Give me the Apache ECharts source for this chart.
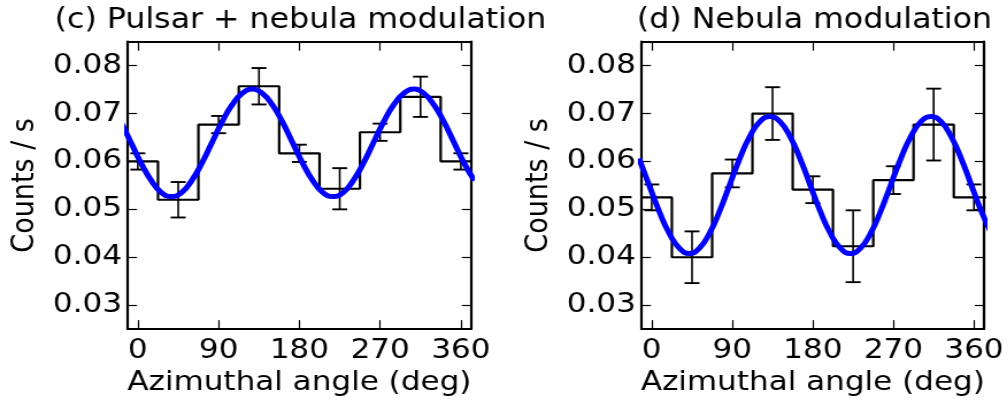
<!DOCTYPE html>
<html>
<head>
<meta charset="utf-8">
<script src="https://cdn.jsdelivr.net/npm/echarts@6/dist/echarts.min.js"></script>
<style>
  html, body { margin: 0; padding: 0; background: #fff; overflow: hidden; }
  #wrap { width: 1007px; height: 401px; overflow: hidden; }
  /* the figure is drawn slightly widened, as in the published panel */
  #chart { width: 876px; height: 401px; transform: scaleX(1.14954); transform-origin: 0 0; }
</style>
</head>
<body>
<div id="wrap"><div id="chart"></div></div>
<script>
// Azimuthal-angle bins (deg, bin centres) and measured count rates
const angleBins = [0, 45, 90, 135, 180, 225, 270, 315, 360];

const pulsarRate = [0.0600, 0.0520, 0.0677, 0.0757, 0.0617, 0.0543, 0.0661, 0.0735, 0.0600];
const pulsarErr  = [0.0017, 0.0037, 0.0018, 0.0038, 0.0018, 0.0043, 0.0018, 0.0042, 0.0017];

const nebulaRate = [0.0525, 0.0400, 0.0575, 0.0700, 0.0541, 0.0423, 0.0561, 0.0677, 0.0525];
const nebulaErr  = [0.0027, 0.0054, 0.0029, 0.0055, 0.0028, 0.0075, 0.0029, 0.0075, 0.0027];

// Fitted modulation curves (angle in deg, rate in counts/s)
const fitAngleC = [-18.75, -7.5, 3.75, 15, 26.25, 37.5, 48.75, 60, 71.25, 82.5, 93.75, 105,
  116.25, 127.5, 138.75, 150, 161.25, 172.5, 183.75, 195, 206.25, 217.5, 228.75, 240,
  251.25, 262.5, 273.75, 285, 296.25, 307.5, 318.75, 330, 341.25, 352.5, 363.75, 375];
const fitRateC = [0.0682, 0.0639, 0.0596, 0.0560, 0.0535, 0.0527, 0.0535, 0.0560, 0.0596, 0.0639,
  0.0682, 0.0718, 0.0742, 0.0751, 0.0742, 0.0718, 0.0682, 0.0639, 0.0596, 0.0560, 0.0535,
  0.0527, 0.0535, 0.0560, 0.0596, 0.0639, 0.0682, 0.0718, 0.0742, 0.0751, 0.0742, 0.0718,
  0.0682, 0.0639, 0.0596, 0.0560];

const fitAngleD = [-14.25, -3, 8.25, 19.5, 30.75, 42, 53.25, 64.5, 75.75, 87, 98.25, 109.5,
  120.75, 132, 143.25, 154.5, 165.75, 177, 188.25, 199.5, 210.75, 222, 233.25, 244.5,
  255.75, 267, 278.25, 289.5, 300.75, 312, 323.25, 334.5, 345.75, 357, 368.25, 379.5];
const fitRateD = [0.0606, 0.0551, 0.0496, 0.0450, 0.0419, 0.0408, 0.0419, 0.0450, 0.0496, 0.0551,
  0.0606, 0.0652, 0.0683, 0.0694, 0.0683, 0.0652, 0.0606, 0.0551, 0.0496, 0.0450, 0.0419,
  0.0408, 0.0419, 0.0450, 0.0496, 0.0551, 0.0606, 0.0652, 0.0683, 0.0694, 0.0683, 0.0652,
  0.0606, 0.0551, 0.0496, 0.0450];

const xTicks = [0, 90, 180, 270, 360];
const yTicks = [0.03, 0.04, 0.05, 0.06, 0.07, 0.08];
const panelTitles = ['(c) Pulsar + nebula modulation', '(d) Nebula modulation'];
const xName = 'Azimuthal angle (deg)';
const yName = 'Counts / s';

const FONT = 'DejaVu Sans';
const X_MIN = -11.25, X_MAX = 371.25;
const Y_MIN = 0.025, Y_MAX = 0.085;
const binHalf = (angleBins[1] - angleBins[0]) / 2;

// histogram outline: one point at each bin's left edge, plus the closing edge
function stepPoints(rates) {
  const pts = angleBins.map((a, i) => [a - binHalf, rates[i]]);
  pts.push([angleBins[angleBins.length - 1] + binHalf, rates[rates.length - 1]]);
  return pts;
}

function errorBarItem(params, api) {
  const x = api.value(0), y = api.value(1), e = api.value(2);
  const hi = api.coord([x, y + e]);
  const lo = api.coord([x, y - e]);
  const hw = 6.5;
  const st = { stroke: '#000', lineWidth: 1.6 };
  const cap = { stroke: '#000', lineWidth: 1.9 };
  return {
    type: 'group',
    children: [
      { type: 'line', shape: { x1: hi[0], y1: hi[1], x2: lo[0], y2: lo[1] }, style: st },
      { type: 'line', shape: { x1: hi[0] - hw, y1: hi[1], x2: hi[0] + hw, y2: hi[1] }, style: cap },
      { type: 'line', shape: { x1: lo[0] - hw, y1: lo[1], x2: lo[0] + hw, y2: lo[1] }, style: cap }
    ]
  };
}

const panels = [
  { left: 111.1, rates: pulsarRate, errs: pulsarErr, fitX: fitAngleC, fitY: fitRateC },
  { left: 558.2, rates: nebulaRate, errs: nebulaErr, fitX: fitAngleD, fitY: fitRateD }
];
const GRID_W = 298.6, GRID_TOP = 41.7, GRID_H = 290;

const spine = { show: true, onZero: false, lineStyle: { color: '#000', width: 2.2 } };
const labelText = { color: '#000', fontFamily: FONT, fontSize: 27 };

const option = {
  animation: false,
  backgroundColor: '#fff',
  title: panels.map((p, i) => ({
    text: panelTitles[i],
    left: p.left + GRID_W / 2 + 1,
    top: 7.2,
    padding: 0,
    textAlign: 'center',
    textStyle: { color: '#000', fontFamily: FONT, fontSize: 27.5, fontWeight: 'normal' }
  })),
  grid: panels.map(p => ({ left: p.left, top: GRID_TOP, width: GRID_W, height: GRID_H, containLabel: false })),
  xAxis: [],
  yAxis: [],
  series: []
};

panels.forEach((p, i) => {
  // bottom axis with labels, top axis carrying only inward ticks
  option.xAxis.push({
    type: 'value', gridIndex: i, position: 'bottom', min: X_MIN, max: X_MAX,
    axisLine: spine,
    axisTick: { show: true, inside: true, length: 9, customValues: xTicks, lineStyle: { color: '#000', width: 1.2 } },
    axisLabel: Object.assign({ show: true, margin: 8, customValues: xTicks, formatter: v => String(v) }, labelText),
    splitLine: { show: false },
    name: xName, nameLocation: 'middle', nameGap: 38.5,
    nameTextStyle: labelText
  });
  option.xAxis.push({
    type: 'value', gridIndex: i, position: 'top', min: X_MIN, max: X_MAX,
    axisLine: spine,
    axisTick: { show: true, inside: true, length: 9, customValues: xTicks, lineStyle: { color: '#000', width: 1.2 } },
    axisLabel: { show: false },
    splitLine: { show: false }
  });
  option.yAxis.push({
    type: 'value', gridIndex: i, position: 'left', min: Y_MIN, max: Y_MAX,
    axisLine: spine,
    axisTick: { show: true, inside: true, length: 8, customValues: yTicks, lineStyle: { color: '#000', width: 1.2 } },
    axisLabel: Object.assign({ show: true, margin: 5, customValues: yTicks, formatter: v => v.toFixed(2) }, labelText),
    splitLine: { show: false },
    name: yName, nameLocation: 'middle', nameRotate: 90, nameGap: 76,
    nameTextStyle: labelText
  });
  option.yAxis.push({
    type: 'value', gridIndex: i, position: 'right', min: Y_MIN, max: Y_MAX,
    axisLine: spine,
    axisTick: { show: true, inside: true, length: 8, customValues: yTicks, lineStyle: { color: '#000', width: 1.2 } },
    axisLabel: { show: false },
    splitLine: { show: false }
  });

  const xi = i * 2, yi = i * 2;
  option.series.push({
    type: 'line', xAxisIndex: xi, yAxisIndex: yi, step: 'end',
    data: stepPoints(p.rates), showSymbol: false, symbol: 'none', clip: true,
    lineStyle: { color: '#000', width: 2.2 }, z: 2
  });
  option.series.push({
    type: 'custom', xAxisIndex: xi, yAxisIndex: yi,
    data: angleBins.map((a, k) => [a, p.rates[k], p.errs[k]]),
    encode: { x: 0, y: 1 },
    renderItem: errorBarItem, z: 3
  });
  option.series.push({
    type: 'line', xAxisIndex: xi, yAxisIndex: yi, smooth: true,
    data: p.fitX.map((a, k) => [a, p.fitY[k]]), showSymbol: false, symbol: 'none', clip: true,
    lineStyle: { color: '#0000ff', width: 5 }, z: 4
  });
});

const chart = echarts.init(document.getElementById('chart'), null, { renderer: 'canvas' });
chart.setOption(option);
</script>
</body>
</html>
